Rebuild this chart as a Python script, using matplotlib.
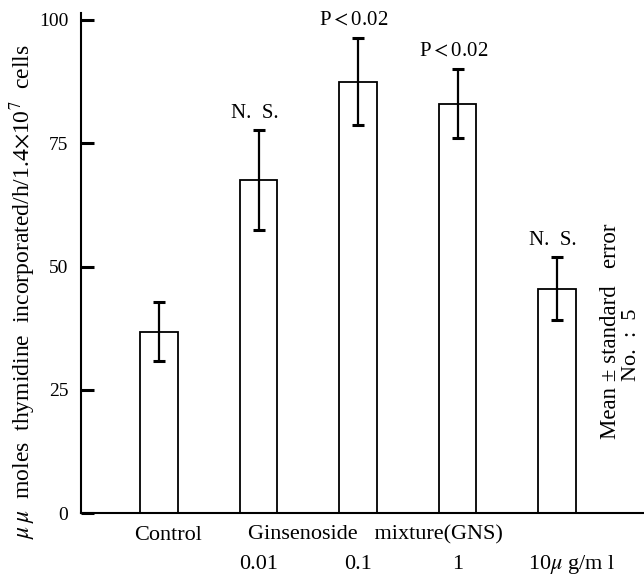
import matplotlib
matplotlib.use("Agg")
import matplotlib.pyplot as plt

plt.rcParams['font.family'] = ['Liberation Serif', 'DejaVu Serif']
plt.rcParams['mathtext.fontset'] = 'stix'

categories = ["Control", "0.01", "0.1", "1", "10"]
means = [36.8, 67.6, 87.5, 83.0, 45.5]
errors = [6.0, 10.1, 8.9, 7.0, 6.4]
annotations = ["", "N.  S.", "P$<$0.02", "P$<$0.02", "N.  S."]
yticks = [0, 25, 50, 75, 100]
dose_labels = ["0.01", "0.1", "1", "10$\\mu$ g/m l"]

fig = plt.figure(figsize=(6.44, 5.76), dpi=100)
ax = fig.add_axes([81/644, 1-513.3/576, 1-81/644, (513.3-13)/576])

x = list(range(len(categories)))
ax.bar(x, means, width=0.38, facecolor='white', edgecolor='black', linewidth=1.3, zorder=2)
ax.errorbar(x, means, yerr=errors, fmt='none', ecolor='black', elinewidth=1.6,
            capsize=4.5, capthick=2.2, zorder=3)

for xi, m, e, t in zip(x, means, errors, annotations):
    if t:
        ax.text(xi - 0.04, m + e + 3.4, t, ha='center', va='center', fontsize=15)

ax.set_ylim(0, 101.4)
ax.set_xlim(-0.784, 4.874)
ax.set_yticks(yticks)
ax.set_xticks([])
ax.tick_params(axis='y', direction='in', length=9, width=2.2, labelsize=14, pad=9)
for s in ['top', 'right']:
    ax.spines[s].set_visible(False)
ax.spines['left'].set_linewidth(1.5)
ax.spines['bottom'].set_linewidth(1.5)

# bottom labels
row1 = -4.4
row2 = -10.3
fs = 16
ax.text(0.09, row1, "Control", ha='center', va='center', fontsize=fs, clip_on=False)
ax.text(2.17, row1, "Ginsenoside   mixture(GNS)", ha='center', va='center', fontsize=fs, clip_on=False)
for xi, lab in zip(x[1:4], dose_labels[:3]):
    ax.text(xi, row2, lab, ha='center', va='center', fontsize=fs, clip_on=False)
ax.text(3.71, row2, dose_labels[3], ha='left', va='center', fontsize=fs, clip_on=False)

fig.text(23/644, 1-292/576,
         "$\\mu\\,\\mu$  moles  thymidine  incorporated/h/1.4$\\times$10$^7$  cells",
         rotation=90, ha='center', va='center', fontsize=17)
fig.text(610/644, 1-331/576, "Mean \u00b1 standard   error", rotation=90, ha='center', va='center', fontsize=16.5)
fig.text(632/644, 1-345/576, "No.  :  5", rotation=90, ha='center', va='center', fontsize=16)

fig.savefig("out.png", dpi=100, facecolor='white')
